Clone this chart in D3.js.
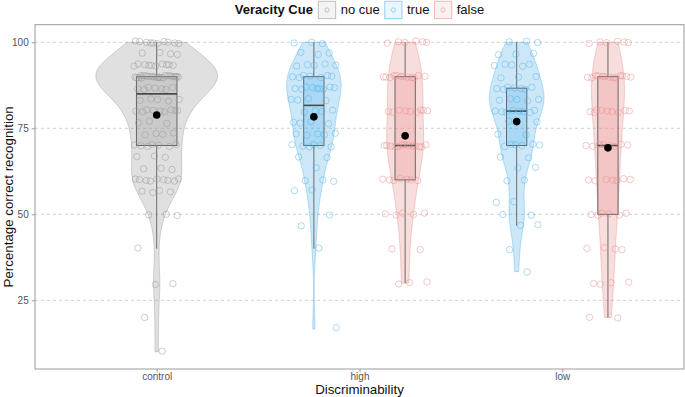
<!DOCTYPE html>
<html><head><meta charset="utf-8">
<script src="https://cdn.jsdelivr.net/npm/d3@7"></script>
<style>body{margin:0;background:#fff} svg{display:block}</style>
</head><body>
<svg id="chart" width="685" height="397"></svg>
<script>
// ---------- data ----------
const categories = ["control", "high", "low"];
const cueLevels = ["no cue", "true", "false"];
const yTickValues = [25, 50, 75, 100];

// frequency tables: score levels and number of participants at each level
const controlNoCueScores = [10, 20, 30, 40, 50, 56.67, 60, 63.33, 66.67, 70, 73.33, 76.67, 80, 83.33, 86.67, 90, 93.33, 96.67, 100];
const controlNoCueCounts = [1, 1, 2, 1, 3, 4, 9, 3, 3, 7, 4, 3, 9, 5, 7, 24, 10, 4, 10];

const highTrueScores = [16.67, 40, 46.67, 50, 56.67, 60, 63.33, 66.67, 70, 73.33, 76.67, 80, 83.33, 86.67, 90, 93.33, 96.67, 100];
const highTrueCounts = [1, 1, 1, 1, 2, 3, 1, 2, 6, 5, 4, 4, 4, 9, 7, 5, 3, 3];

const highFalseScores = [30, 40, 50, 60, 70, 80, 90, 100];
const highFalseCounts = [3, 2, 5, 7, 13, 9, 12, 6];

const lowTrueScores = [33.33, 40, 46.67, 50, 53.33, 60, 63.33, 66.67, 70, 73.33, 76.67, 80, 83.33, 86.67, 90, 93.33, 96.67, 100];
const lowTrueCounts = [1, 1, 2, 2, 2, 2, 2, 2, 6, 2, 2, 8, 5, 7, 3, 5, 3, 3];

const lowFalseScores = [20, 30, 40, 50, 60, 70, 80, 90, 100];
const lowFalseCounts = [2, 4, 4, 6, 7, 8, 9, 13, 6];

// ---------- styling ----------
const cueColors = {"no cue": "#999999", "true": "#56B4E9", "false": "#E88E8E"};
const font = "'Liberation Sans', Arial, Helvetica, sans-serif";

const groups = [
  {category: "control", cue: "no cue", scores: controlNoCueScores, counts: controlNoCueCounts},
  {category: "high", cue: "true", scores: highTrueScores, counts: highTrueCounts},
  {category: "high", cue: "false", scores: highFalseScores, counts: highFalseCounts},
  {category: "low", cue: "true", scores: lowTrueScores, counts: lowTrueCounts},
  {category: "low", cue: "false", scores: lowFalseScores, counts: lowFalseCounts}
];

const svg = d3.select("#chart");
const panel = {left: 35, right: 684, top: 24.7, bottom: 369};

const x = d3.scaleLinear().domain([0.4, categories.length + 0.6]).range([panel.left, panel.right]);
const y = d3.scaleLinear().domain([5.03, 105.12]).range([panel.bottom, panel.top]);
const unit = x(1) - x(0);

const dodgeWidth = 0.9;
const violinWidth = 0.6;
const boxWidth = 0.2;
const jitterW = 0.113, jitterH = 0.4;

// expand values
groups.forEach(g => {
  g.values = [];
  g.scores.forEach((s, i) => { for (let k = 0; k < g.counts[i]; k++) g.values.push(s); });
  g.values.sort(d3.ascending);
  const same = groups.filter(o => o.category === g.category);
  const nAtX = same.length;
  const idx = same.indexOf(g);
  const slot = dodgeWidth / nAtX;
  g.cx = categories.indexOf(g.category) + 1 + (nAtX > 1 ? (-dodgeWidth / 2 + slot * (idx + 0.5)) : 0);
  g.nAtX = nAtX;
  g.q1 = d3.quantile(g.values, 0.25);
  g.med = d3.quantile(g.values, 0.5);
  g.q3 = d3.quantile(g.values, 0.75);
  const iqr = g.q3 - g.q1;
  g.lo = d3.min(g.values.filter(v => v >= g.q1 - 1.5 * iqr));
  g.hi = d3.max(g.values.filter(v => v <= g.q3 + 1.5 * iqr));
  g.mean = d3.mean(g.values);
  // KDE (bw.nrd0, gaussian), trimmed to data range
  const n = g.values.length;
  const sd = d3.deviation(g.values);
  let lo = Math.min(sd, iqr / 1.34);
  if (!(lo > 0)) lo = sd || 1;
  const bw = 0.9 * lo * Math.pow(n, -0.2);
  const mn = d3.min(g.values), mx = d3.max(g.values);
  g.dens = d3.range(512).map(i => {
    const t = mn + (mx - mn) * i / 511;
    let s = 0;
    for (const v of g.values) { const z = (t - v) / bw; s += Math.exp(-0.5 * z * z); }
    return {t, d: s / (n * bw * Math.sqrt(2 * Math.PI))};
  });
});
const globalMax = d3.max(groups, g => d3.max(g.dens, d => d.d));

// ---------- grid ----------
svg.append("g").selectAll("line").data(yTickValues).join("line")
  .attr("x1", panel.left).attr("x2", panel.right)
  .attr("y1", d => y(d)).attr("y2", d => y(d))
  .attr("stroke", "#c4c4c4").attr("stroke-width", 0.8).attr("stroke-dasharray", "3,3");

// ---------- violins ----------
const vg = svg.append("g");
groups.forEach(g => {
  const half = violinWidth / g.nAtX / 2;
  const area = d3.area()
    .y(d => y(d.t))
    .x0(d => x(g.cx) - (d.d / globalMax) * half * unit)
    .x1(d => x(g.cx) + (d.d / globalMax) * half * unit);
  vg.append("path").attr("d", area(g.dens) + "Z")
    .attr("fill", cueColors[g.cue]).attr("fill-opacity", 0.3)
    .attr("stroke", cueColors[g.cue]).attr("stroke-opacity", 0.55).attr("stroke-width", 0.8);
});

// ---------- boxplots ----------
const bg = svg.append("g");
groups.forEach(g => {
  const bh = boxWidth / g.nAtX / 2;
  const cx = x(g.cx);
  bg.append("line").attr("x1", cx).attr("x2", cx).attr("y1", y(g.q3)).attr("y2", y(g.hi))
    .attr("stroke", "#6b6b6b").attr("stroke-width", 1);
  bg.append("line").attr("x1", cx).attr("x2", cx).attr("y1", y(g.q1)).attr("y2", y(g.lo))
    .attr("stroke", "#6b6b6b").attr("stroke-width", 1);
  bg.append("rect").attr("x", x(g.cx - bh)).attr("width", x(g.cx + bh) - x(g.cx - bh))
    .attr("y", y(g.q3)).attr("height", y(g.q1) - y(g.q3))
    .attr("fill", cueColors[g.cue]).attr("fill-opacity", 0.3)
    .attr("stroke", "#5a5a5a").attr("stroke-width", 0.9);
  bg.append("line").attr("x1", x(g.cx - bh)).attr("x2", x(g.cx + bh))
    .attr("y1", y(g.med)).attr("y2", y(g.med))
    .attr("stroke", "#4a4a4a").attr("stroke-width", 1.6);
});

// ---------- jittered points ----------
const pg = svg.append("g");
groups.forEach((g, gi) => {
  g.values.forEach((v, k) => {
    const u = ((k + 1) * 0.6180339887 + gi * 0.37) % 1;
    const w = ((k + 1) * 0.7548776662 + gi * 0.21) % 1;
    pg.append("circle")
      .attr("cx", x(g.cx + (u - 0.5) * 2 * jitterW))
      .attr("cy", y(v + (w - 0.5) * 2 * jitterH))
      .attr("r", 3.2).attr("fill", "none")
      .attr("stroke", cueColors[g.cue]).attr("stroke-opacity", 0.62).attr("stroke-width", 0.8);
  });
});

// ---------- means ----------
svg.append("g").selectAll("circle").data(groups).join("circle")
  .attr("cx", d => x(d.cx)).attr("cy", d => y(d.mean)).attr("r", 3.8).attr("fill", "#000");

// ---------- panel border ----------
svg.append("rect").attr("x", panel.left).attr("y", panel.top)
  .attr("width", panel.right - panel.left).attr("height", panel.bottom - panel.top)
  .attr("fill", "none").attr("stroke", "#9a9a9a").attr("stroke-width", 1);

// ---------- axes ----------
const yAxis = d3.axisLeft(y).tickValues(yTickValues).tickSize(3.3).tickPadding(3);
const ya = svg.append("g").attr("transform", `translate(${panel.left},0)`).call(yAxis);
ya.select(".domain").remove();
ya.selectAll("line").attr("stroke", "#9a9a9a");
ya.selectAll("text").attr("font-family", font).attr("font-size", 10).attr("fill", "#555");

const xAxis = d3.axisBottom(x).tickValues(categories.map((c, i) => i + 1))
  .tickFormat((d, i) => categories[i]).tickSize(3.3).tickPadding(1);
const xa = svg.append("g").attr("transform", `translate(0,${panel.bottom})`).call(xAxis);
xa.select(".domain").remove();
xa.selectAll("line").attr("stroke", "#9a9a9a");
xa.selectAll("text").attr("font-family", font).attr("font-size", 10).attr("fill", "#555");

svg.append("text").attr("x", (panel.left + panel.right) / 2).attr("y", 394.3)
  .attr("text-anchor", "middle").attr("font-family", font).attr("font-size", 13.3).attr("fill", "#111")
  .text("Discriminability");
svg.append("text").attr("transform", `translate(12.5,${(panel.top + panel.bottom) / 2}) rotate(-90)`)
  .attr("text-anchor", "middle").attr("font-family", font).attr("font-size", 13.3).attr("fill", "#111")
  .text("Percentage correct recognition");

// ---------- legend ----------
const lg = svg.append("g");
const keySize = 17.3, keyY = 1.3;
const title = lg.append("text").attr("font-family", font).attr("font-size", 13).attr("font-weight", "bold")
  .attr("fill", "#111").attr("y", keyY + keySize / 2).attr("dominant-baseline", "central").text("Veracity Cue");
let cursor = title.node().getComputedTextLength() + 5.5;
cueLevels.forEach(c => {
  const it = lg.append("g").attr("transform", `translate(${cursor},0)`);
  it.append("rect").attr("x", 0).attr("y", keyY).attr("width", keySize).attr("height", keySize)
    .attr("fill", cueColors[c]).attr("fill-opacity", 0.12)
    .attr("stroke", cueColors[c]).attr("stroke-opacity", 0.6).attr("stroke-width", 1);
  it.append("circle").attr("cx", keySize / 2).attr("cy", keyY + keySize / 2).attr("r", 2.1)
    .attr("fill", "none").attr("stroke", cueColors[c]).attr("stroke-opacity", 0.7).attr("stroke-width", 0.8);
  const t = it.append("text").attr("x", keySize + 5).attr("y", keyY + keySize / 2)
    .attr("dominant-baseline", "central").attr("font-family", font).attr("font-size", 13).attr("fill", "#111").text(c);
  cursor += keySize + 5 + t.node().getComputedTextLength() + 5;
});
const totalW = cursor - 5;
lg.attr("transform", `translate(${(panel.left + panel.right) / 2 - totalW / 2},0)`);
</script>
</body></html>
